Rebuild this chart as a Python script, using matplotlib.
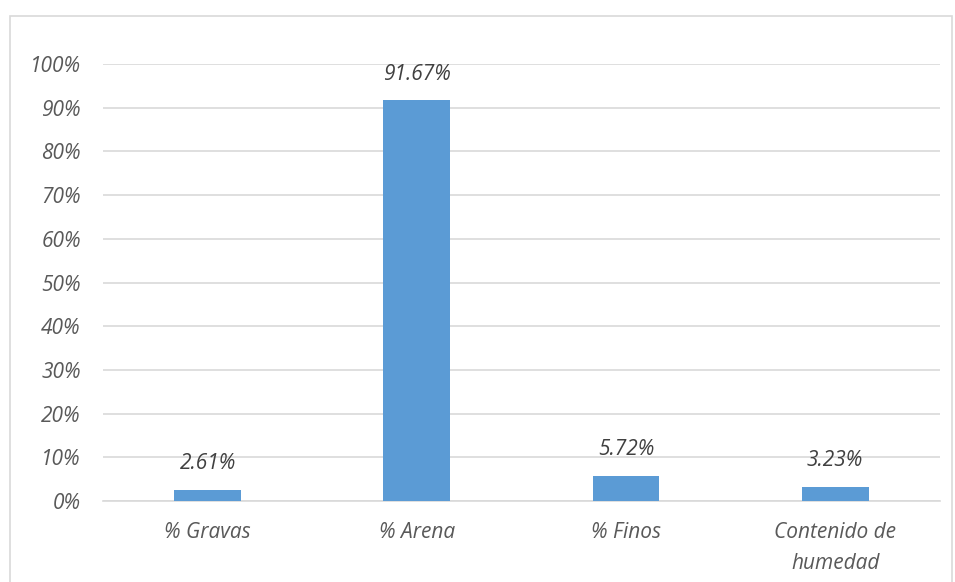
import matplotlib.pyplot as plt
from matplotlib.patches import Rectangle
from matplotlib.ticker import PercentFormatter

# Granulometría y humedad de la muestra
categorias = ['% Gravas', '% Arena', '% Finos', 'Contenido de\nhumedad']
porcentajes = [2.61, 91.67, 5.72, 3.23]
etiquetas = ['2.61%', '91.67%', '5.72%', '3.23%']

plt.rcParams['font.family'] = ['Open Sans', 'DejaVu Sans']
plt.rcParams['font.style'] = 'italic'

fig = plt.figure(figsize=(9.55, 5.82), dpi=100)
ax = fig.add_axes([0.108, 0.139, 0.876, 0.751])

# marco del gráfico
fig.patches.append(Rectangle((10 / 955, -0.05), 942 / 955, 1 - 16 / 582 + 0.05,
                             transform=fig.transFigure, fill=False,
                             edgecolor='#d9d9d9', linewidth=1.2))

x = range(len(categorias))
barras = ax.bar(x, [p / 100 for p in porcentajes], width=0.32, color='#5b9bd5', zorder=3)

for xi, p, txt in zip(x, porcentajes, etiquetas):
    ax.annotate(txt, (xi, p / 100), xytext=(0, 19), textcoords='offset points',
                ha='center', va='center', fontsize=15, color='#404040')

ax.set_xlim(-0.5, len(categorias) - 0.5)
ax.set_ylim(0, 1.0)
ax.set_yticks([i / 10 for i in range(11)])
ax.yaxis.set_major_formatter(PercentFormatter(1.0, decimals=0))
ax.set_xticks(list(x))
ax.set_xticklabels(categorias, linespacing=1.6)
ax.tick_params(axis='both', length=0, labelsize=15, colors='#595959')
ax.tick_params(axis='x', pad=15)
ax.tick_params(axis='y', pad=16)

ax.grid(axis='y', color='#d9d9d9', linewidth=1.2, zorder=0)
for s in ['top', 'right', 'left']:
    ax.spines[s].set_visible(False)
ax.spines['bottom'].set_color('#d9d9d9')
ax.spines['bottom'].set_linewidth(1.2)

fig.savefig('out.png', dpi=100)
